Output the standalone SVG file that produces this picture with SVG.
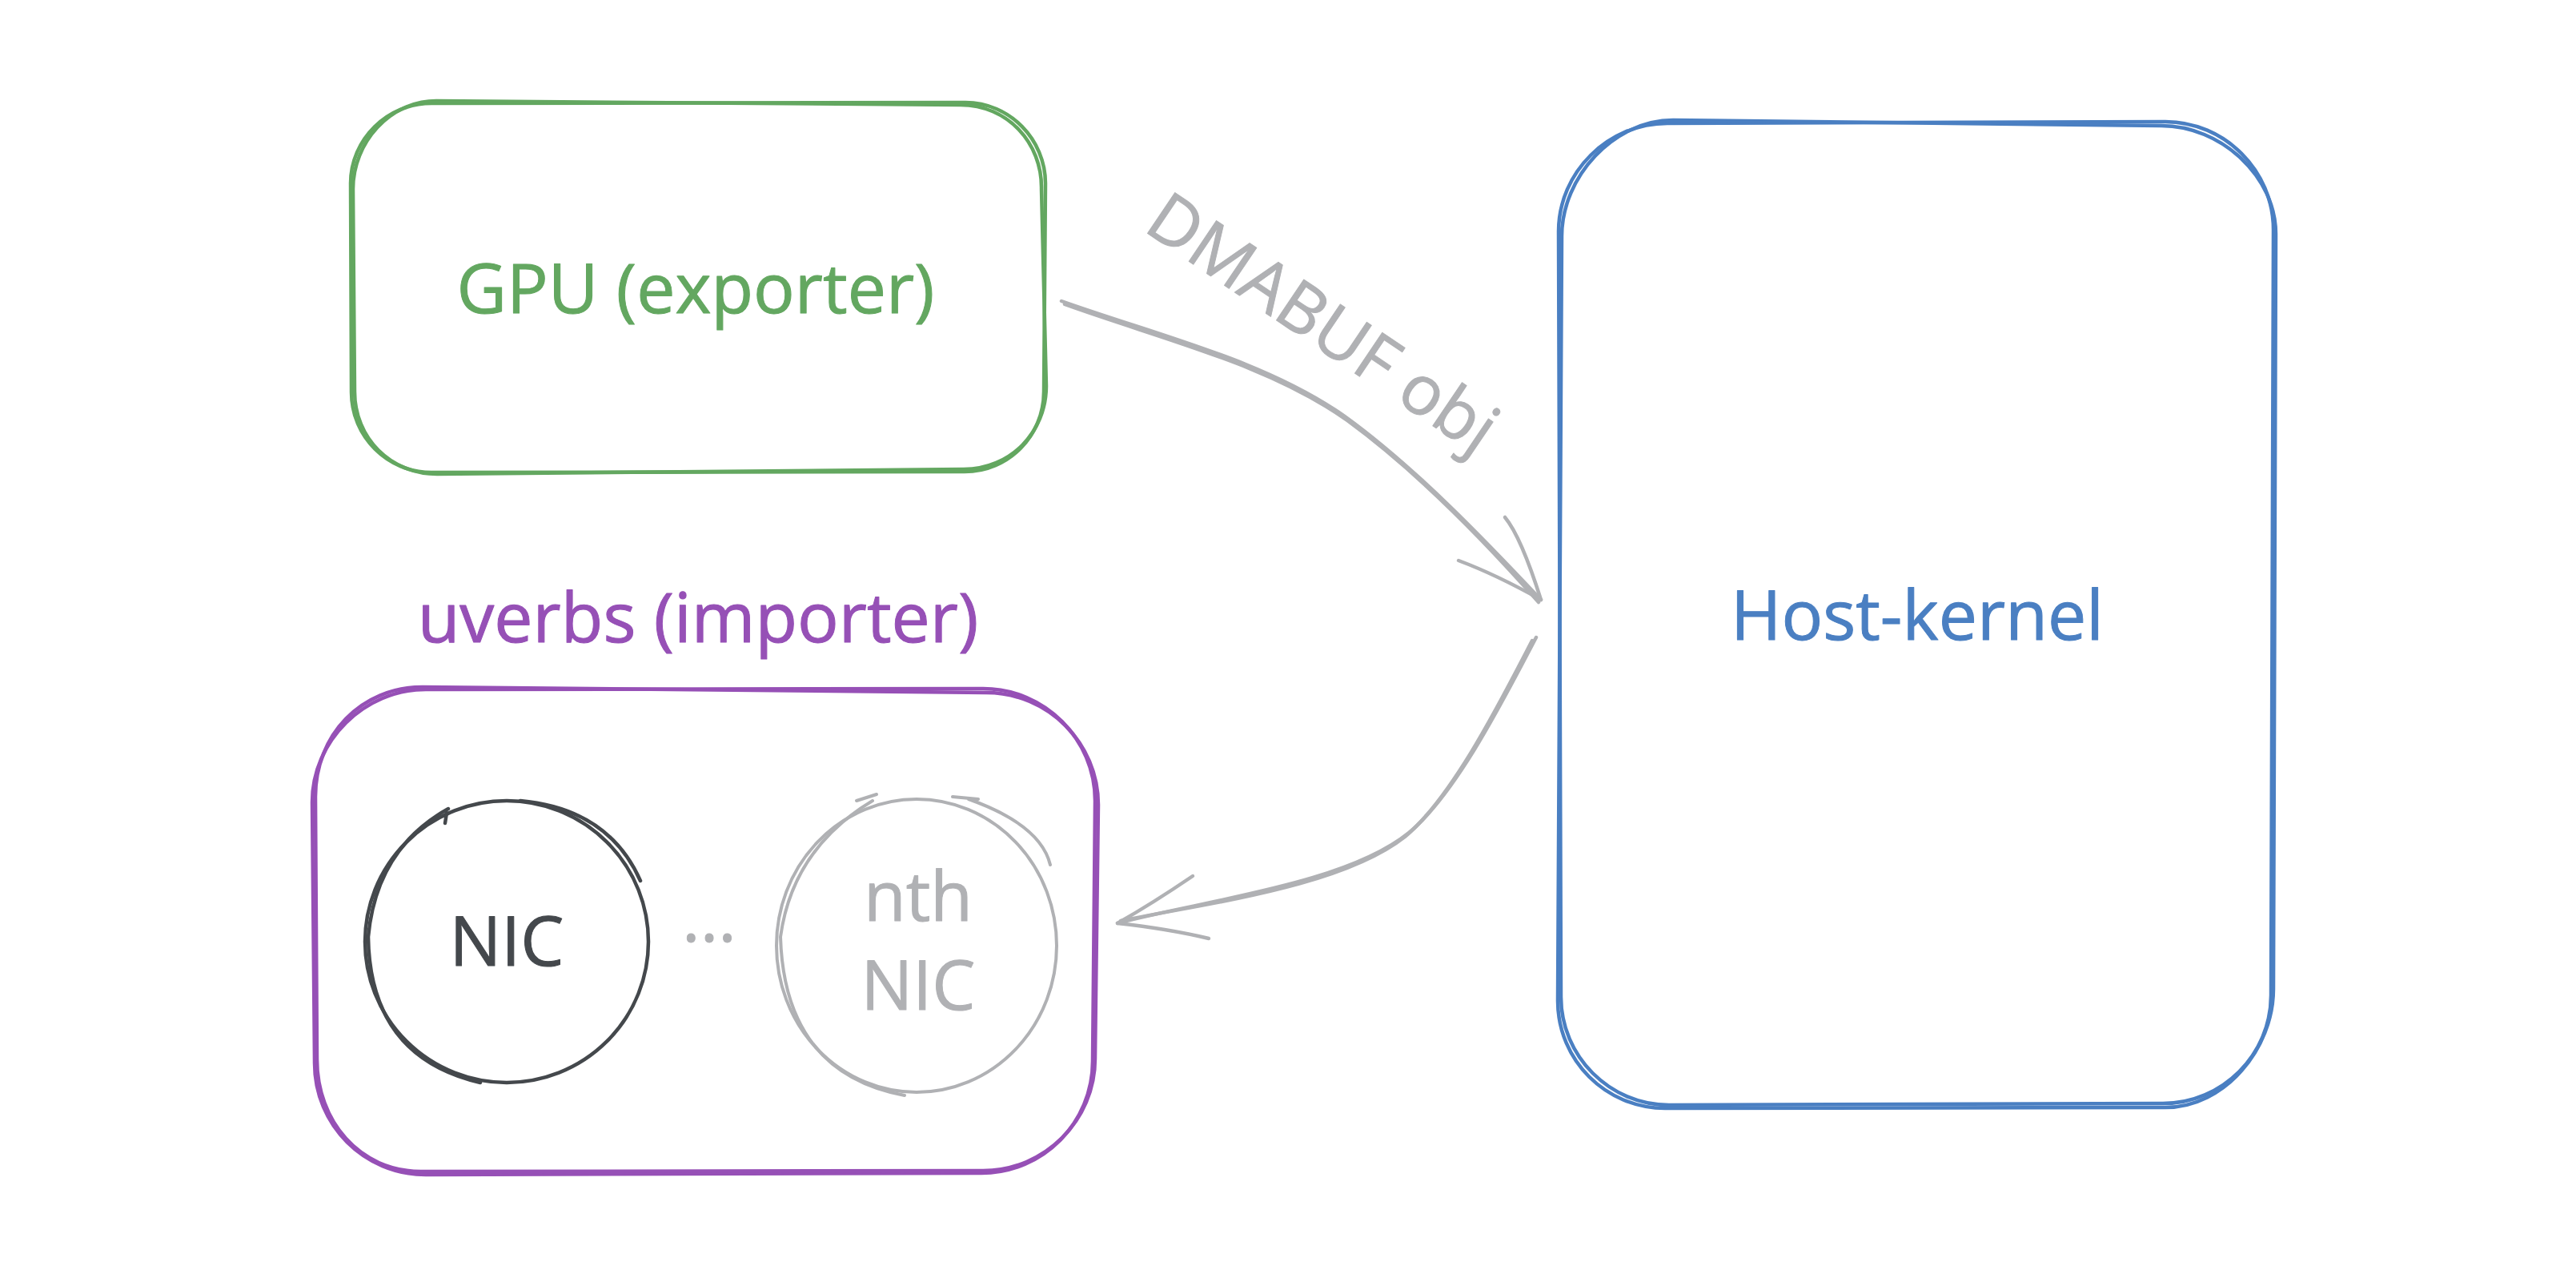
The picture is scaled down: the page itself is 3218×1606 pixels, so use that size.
<svg xmlns="http://www.w3.org/2000/svg" width="3218" height="1606" viewBox="0 0 3218 1606">
<style>
.t{font-family:"Open Sans","Noto Sans","Liberation Sans",sans-serif;font-size:86px;font-weight:400;text-anchor:middle;stroke-width:1px;stroke-linejoin:round}
.rough{fill:none;stroke-linecap:round;stroke-linejoin:round}
.green{stroke:#63a760;stroke-width:4.5}
.blue{stroke:#4a7fc2;stroke-width:4.5}
.purple{stroke:#9650b6;stroke-width:4.5}
.dark{stroke:#44484c;stroke-width:4.5}
.gray{stroke:#b0b1b4;stroke-width:4}
.conn{fill:none;stroke:#b0b1b4;stroke-width:4.5;stroke-linecap:round;stroke-linejoin:round}
</style>
<rect width="3218" height="1606" fill="#ffffff"/>
<g id="gpu">
<path class="rough green" d="M 539 129 L 1206 128 C 1261 128 1306 174 1306 229 L 1304 489 C 1304 544 1260 589 1205 589 L 539 590 C 484 590 439 545 439 490 L 438 229 C 438 174 484 129 539 129 Z"/>
<path class="rough green" stroke-width="3" d="M 545 126 L 1200 131 C 1258 131 1302 178 1301 236 L 1307 482 C 1307 540 1262 586 1204 586 L 546 592 C 488 592 443 547 443 489 L 441 236 C 441 178 487 126 545 126 Z"/>
<text class="t" x="869" y="391" fill="#63a760" stroke="#63a760">GPU (exporter)</text>
</g>
<g id="host-kernel">
<path class="rough blue" d="M 2083 154 L 2705 152 C 2779 152 2840 213 2840 287 L 2837 1243 C 2837 1317 2776 1378 2702 1378 L 2085 1380 C 2011 1380 1950 1319 1950 1245 L 1947 289 C 1947 215 2009 154 2083 154 Z"/>
<path class="rough blue" stroke-width="3" d="M 2090 150 L 2700 157 C 2774 157 2844 220 2843 294 L 2840 1235 C 2840 1310 2779 1383 2705 1383 L 2080 1384 C 2006 1384 1946 1324 1946 1250 L 1951 295 C 1951 221 2016 150 2090 150 Z"/>
<text class="t" x="2395" y="799" fill="#4a7fc2" stroke="#4a7fc2">Host-kernel</text>
</g>
<g id="uverbs">
<text class="t" x="872" y="802" fill="#9650b6" stroke="#9650b6">uverbs (importer)</text>
<path class="rough purple" d="M 532 861 L 1228 860 C 1305 860 1368 923 1368 1000 L 1365 1325 C 1365 1402 1303 1465 1226 1465 L 532 1467 C 455 1467 393 1405 393 1328 L 390 1002 C 390 925 455 861 532 861 Z"/>
<path class="rough purple" stroke-width="3" d="M 528 858 L 1232 865 C 1309 865 1372 928 1372 1005 L 1368 1322 C 1368 1399 1305 1462 1228 1462 L 526 1463 C 449 1463 396 1400 396 1323 L 394 995 C 394 918 451 858 528 858 Z"/>
</g>
<g id="nic">
<ellipse class="rough dark" cx="633" cy="1176" rx="177" ry="176"/>
<path class="rough dark" stroke-width="3" d="M 560 1010 Q 470 1060 460 1170 Q 462 1320 600 1352 M 650 1000 Q 760 1010 800 1100"/>
<path class="rough dark" stroke-width="3" d="M 558 1015 L 556 1028"/>
<text class="t" x="633" y="1206" fill="#44484c" stroke="#44484c">NIC</text>
</g>
<text class="t" x="886" y="1176" fill="#b0b1b4" stroke="#b0b1b4">...</text>
<g id="nth-nic">
<ellipse class="rough gray" cx="1145" cy="1181" rx="175" ry="183"/>
<path class="rough gray" stroke-width="3" d="M 1090 1000 Q 990 1060 975 1170 Q 980 1340 1130 1368 M 1210 998 Q 1300 1030 1312 1080 M 1070 1000 L 1095 992 M 1190 995 L 1222 998"/>
<text class="t" x="1147" y="1150" fill="#b0b1b4" stroke="#b0b1b4">nth</text>
<text class="t" x="1147" y="1261" fill="#b0b1b4" stroke="#b0b1b4">NIC</text>
</g>
<g id="connectors">
<path class="conn" d="M 1326 376 C 1450 420 1580 450 1680 520 C 1770 585 1860 680 1925 749"/>
<path class="conn" stroke-width="3" d="M 1330 380 C 1455 425 1585 455 1683 525 C 1772 590 1862 684 1922 752"/>
<path class="conn" d="M 1822 700 Q 1870 718 1925 749 M 1880 646 Q 1900 670 1925 749"/>
<text class="t" transform="translate(1636 428) rotate(34)" fill="#b0b1b4" stroke="#b0b1b4">DMABUF obj</text>
<path class="conn" d="M 1919 796 C 1880 870 1820 990 1760 1040 C 1680 1105 1500 1125 1396 1153"/>
<path class="conn" stroke-width="3" d="M 1914 800 C 1875 875 1815 995 1755 1045 C 1675 1108 1505 1128 1400 1150"/>
<path class="conn" d="M 1490 1094 Q 1440 1128 1396 1153 M 1510 1172 Q 1460 1160 1396 1153"/>
</g>
</svg>
